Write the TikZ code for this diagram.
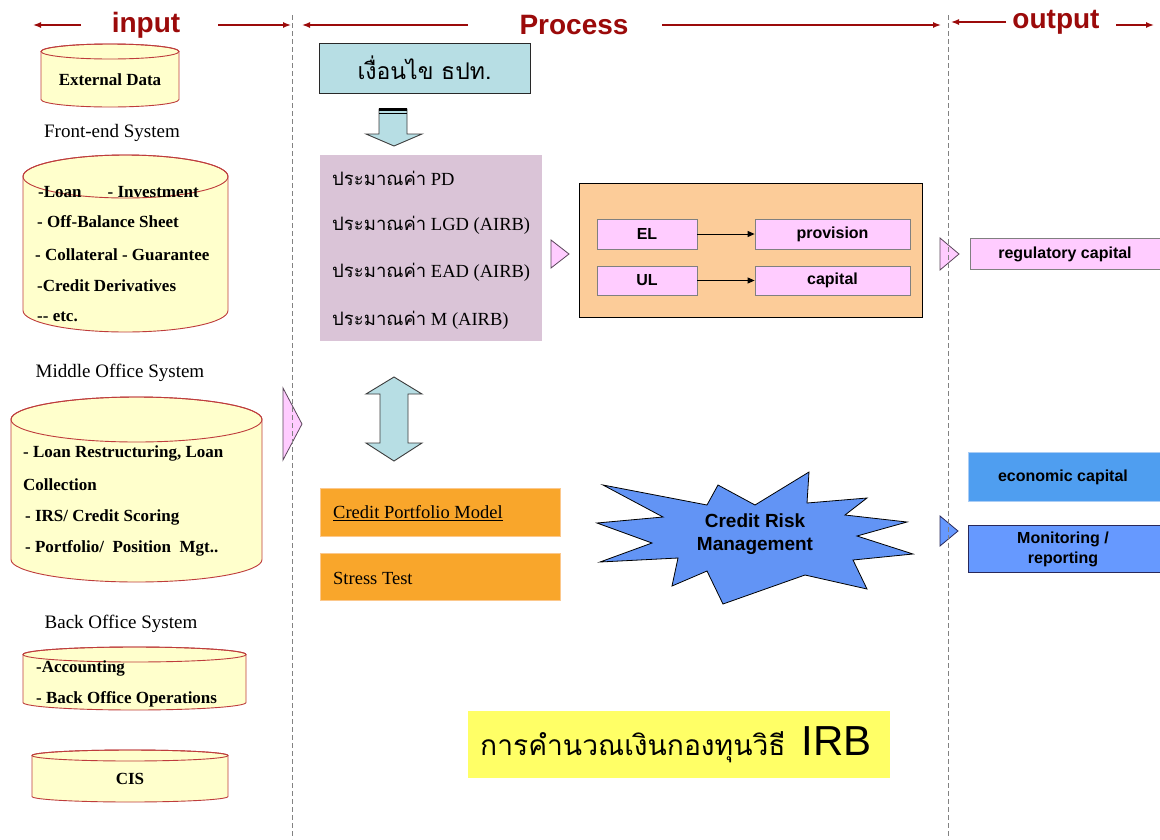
\documentclass[tikz,border=0pt]{standalone}
\usepackage{fontspec}
\setmainfont{Liberation Serif}
\setsansfont{Liberation Sans}
\newfontfamily\thaifont[Script=Thai]{Loma}
\usetikzlibrary{arrows.meta}

\definecolor{titlered}{RGB}{155,10,10}
\definecolor{sepgray}{RGB}{130,130,130}
\definecolor{drumyellow}{RGB}{255,255,204}
\definecolor{drumred}{RGB}{190,60,60}
\definecolor{tealfill}{RGB}{183,222,228}
\definecolor{lilac}{RGB}{218,196,215}
\definecolor{pinkfill}{RGB}{255,204,255}
\definecolor{pinkedge}{RGB}{128,128,128}
\definecolor{peach}{RGB}{252,204,153}
\definecolor{orangefill}{RGB}{249,166,43}
\definecolor{orangeedge}{RGB}{252,200,140}
\definecolor{starblue}{RGB}{98,148,245}
\definecolor{econblue}{RGB}{79,158,240}
\definecolor{monblue}{RGB}{102,153,255}
\definecolor{navyedge}{RGB}{40,40,90}
\definecolor{titleyellow}{RGB}{255,255,102}

\tikzset{
  x=1pt, y=-1pt,
  coltitle/.style={font=\sffamily\bfseries\fontsize{28}{30}\selectfont, text=titlered, inner sep=0},
  tarrow/.style={draw=titlered, line width=1.4pt, -{Latex[length=8pt,width=6pt]}},
  sepline/.style={draw=sepgray, line width=0.8pt, dash pattern=on 5pt off 3pt},
  drumfill/.style={fill=drumyellow, draw=drumred, line width=0.9pt},
  drumedge/.style={draw=drumred, line width=0.9pt},
  drumtext/.style={font=\bfseries\fontsize{17}{19}\selectfont, inner sep=0, anchor=west},
  syslabel/.style={font=\fontsize{19}{21}\selectfont, inner sep=0},
  esttext/.style={font=\fontsize{18.5}{20}\selectfont, inner sep=0, anchor=west},
  smallbox/.style={draw=pinkedge, fill=pinkfill, line width=0.8pt, inner sep=0,
    font=\sffamily\bfseries\fontsize{16}{18}\selectfont},
  pinktri/.style={draw={rgb,255:red,90;green,70;blue,90}, fill=pinkfill, line width=0.8pt},
  bluetri/.style={draw=navyedge, fill=monblue, line width=0.8pt},
  blockarrow/.style={draw={rgb,255:red,60;green,60;blue,60}, fill=tealfill, line width=0.9pt},
  orangebox/.style={draw=orangeedge, fill=orangefill, line width=0.6pt, inner sep=0},
  linkarrow/.style={draw=black, line width=1pt, -{Triangle[length=7pt,width=6pt]}},
}

% drum: x1, y1, x2, y2, radius of the end ellipse
\newcommand{\drum}[5]{%
  \pgfmathsetmacro{\drx}{(#3-#1)/2}%
  \pgfmathsetmacro{\dcx}{(#3+#1)/2}%
  \path[drumfill] (#1,#2+#5) -- (#1,#4-#5)
    arc[start angle=180, end angle=0, x radius=\drx, y radius=#5]
    -- (#3,#2+#5)
    arc[start angle=0, end angle=-180, x radius=\drx, y radius=#5] -- cycle;
  \draw[drumedge] (\dcx,#2+#5) ellipse[x radius=\drx, y radius=#5];
}

\begin{document}
\begin{tikzpicture}
\useasboundingbox[fill=white] (0,0) rectangle (1160,839);

% ---------- column headings ----------
\node[coltitle] (hin)  at (146,25) {input};
\node[coltitle] (hpro) at (574,25) {Process};
\node[coltitle] (hout) at (1056,22) {output};
\coordinate (a1s) at (81,25);   \coordinate (a1e) at (33,25);
\coordinate (a2s) at (218,25);  \coordinate (a2e) at (291,25);
\coordinate (a3s) at (468,25);  \coordinate (a3e) at (302,25);
\coordinate (a4s) at (662,25);  \coordinate (a4e) at (941,25);
\coordinate (a5s) at (1006,22); \coordinate (a5e) at (951,22);
\coordinate (a6s) at (1116,25); \coordinate (a6e) at (1154,25);
\draw[tarrow] (a1s) -- (a1e);
\draw[tarrow] (a2s) -- (a2e);
\draw[tarrow] (a3s) -- (a3e);
\draw[tarrow] (a4s) -- (a4e);
\draw[tarrow] (a5s) -- (a5e);
\draw[tarrow] (a6s) -- (a6e);

% ---------- input column ----------
\drum{41}{44}{179}{107}{7.5}
\node[drumtext, anchor=center] (ext) at (110,80) {External Data};

\node[syslabel] (fesys) at (112,133) {Front-end System};
\drum{23}{155}{228}{332}{21.5}
\node[drumtext] (fe1) at (38,192) {-Loan\hspace{26pt}- Investment};
\node[drumtext] (fe2) at (37,222) {- Off-Balance Sheet};
\node[drumtext] (fe3) at (35,255) {- Collateral - Guarantee};
\node[drumtext] (fe4) at (37,286) {-Credit Derivatives};
\node[drumtext] (fe5) at (37,317) {-{}- etc.};

\node[syslabel] (mosys) at (120,373) {Middle Office System};
\drum{11}{397}{262}{582}{22.5}
\node[drumtext] (mo1) at (23,453) {- Loan Restructuring, Loan};
\node[drumtext] (mo2) at (23,485) {Collection};
\node[drumtext] (mo3) at (25,517) {- IRS/ Credit Scoring};
\node[drumtext] (mo4) at (25,548) {- Portfolio/\ \ Position\ \ Mgt..};

\node[syslabel] (bosys) at (121,624) {Back Office System};
\drum{23}{647}{246}{710}{7.5}
\node[drumtext] (bo1) at (36,668) {-Accounting};
\node[drumtext] (bo2) at (36,699) {- Back Office Operations};

\drum{32}{750}{228}{802}{5.5}
\node[drumtext, anchor=center] (cis) at (130,779) {CIS};

\draw[pinktri] (283,388) -- (302,424) -- (283,460) -- cycle;

% ---------- process column ----------
\node[draw={rgb,255:red,40;green,40;blue,40}, fill=tealfill, line width=0.9pt,
      minimum width=211pt, minimum height=50pt, inner sep=0,
      font=\thaifont\fontsize{23}{25}\selectfont] (cond) at (424.5,68) {เงื่อนไข ธปท.};

% downward block arrow
\draw[blockarrow] (379,109) -- (407,109) -- (407,134) -- (422,134) -- (394,146)
  -- (366,134) -- (379,134) -- cycle;
\draw[line width=2.4pt] (379,109.5) -- (407,109.5);
\draw[line width=0.8pt] (379,113) -- (407,113);

% parameter estimates
\node[fill=lilac, minimum width=222pt, minimum height=186pt, inner sep=0] (est) at (431,248) {};
\node[esttext] (pd)  at (332,178) {{\thaifont ประมาณค่า} PD};
\node[esttext] (lgd) at (332,225) {{\thaifont ประมาณค่า} LGD (AIRB)};
\node[esttext] (ead) at (332,272) {{\thaifont ประมาณค่า} EAD (AIRB)};
\node[esttext] (mat) at (332,320) {{\thaifont ประมาณค่า} M (AIRB)};

\draw[pinktri] (551,240) -- (569,254) -- (551,268) -- cycle;

% loss and capital block
\node[draw=black, fill=peach, line width=0.9pt, minimum width=343pt, minimum height=134pt, inner sep=0] (loss) at (750.5,250) {};
\node[smallbox, minimum width=100pt, minimum height=30pt] (el)   at (647,234) {EL};
\node[smallbox, minimum width=155pt, minimum height=30pt] (prov) at (832.5,234) {provision};
\node[smallbox, minimum width=100pt, minimum height=29pt] (ul)   at (647,280.5) {UL};
\node[smallbox, minimum width=155pt, minimum height=29pt] (capl) at (832.5,280.5) {capital};
\draw[linkarrow] (el) -- (prov);
\draw[linkarrow] (ul) -- (capl);

% two-way block arrow
\draw[blockarrow] (394,377) -- (422,394) -- (408,394) -- (408,443) -- (422,443)
  -- (394,461) -- (366,443) -- (380,443) -- (380,394) -- (366,394) -- cycle;

% models
\node[orangebox, minimum width=240pt, minimum height=48pt] (cpm) at (440,512) {};
\node[esttext] (cpmt) at (333,513) {\underline{Credit Portfolio Model}};
\node[orangebox, minimum width=240pt, minimum height=47pt] (st) at (440,576.5) {};
\node[esttext] (stt) at (333,578) {Stress Test};

% credit risk management burst
\draw[draw=black, fill=starblue, line width=0.8pt]
  (603,485) -- (707,505) -- (718,485) -- (755,505) -- (809,472) -- (807,503)
  -- (867,498) -- (845,515) -- (907,522) -- (857,536) -- (913,554) -- (853,560)
  -- (867,589) -- (805,575) -- (723,604) -- (707,571) -- (672,586) -- (678,558)
  -- (600,562) -- (652,543) -- (597,523) -- (663,517) -- cycle;
\node[align=center, inner sep=0, font=\sffamily\bfseries\fontsize{19}{23.5}\selectfont]
  (crm) at (755,534) {Credit Risk\\Management};

% title banner
\node[fill=titleyellow, minimum width=422pt, minimum height=67pt, inner sep=0] (irb) at (679,744.5) {};
\node[inner sep=0, anchor=west] (irbt) at (480,745)
  {{\thaifont\fontsize{28.2}{30}\selectfont การคำนวณเงินกองทุนวิธี}\hspace{16pt}{\sffamily\fontsize{42}{44}\selectfont IRB}};

% ---------- output column ----------
\draw[pinktri] (940,238) -- (959,254) -- (940,270) -- cycle;
\node[smallbox, minimum width=192pt, minimum height=31pt] (reg) at (1066,253.5) {};
\node[inner sep=0, font=\sffamily\bfseries\fontsize{16}{18}\selectfont] (regt) at (1065,254.5) {regulatory capital};

\node[draw={rgb,255:red,170;green,205;blue,245}, fill=econblue, line width=0.6pt,
      minimum width=194pt, minimum height=49pt, inner sep=0] (econ) at (1065,476.5) {};
\node[inner sep=0, font=\sffamily\bfseries\fontsize{16}{18}\selectfont] (econt) at (1063,477.5) {economic capital};

\draw[bluetri] (940,516) -- (958,531) -- (940,546) -- cycle;
\node[draw=navyedge, fill=monblue, line width=0.8pt,
      minimum width=194pt, minimum height=47pt, inner sep=0] (mon) at (1065,548.5) {};
\node[inner sep=0, align=center, font=\sffamily\bfseries\fontsize{16}{20}\selectfont] (mont) at (1063,549) {Monitoring /\\reporting};

% ---------- column separators ----------
\coordinate (s1t) at (292,15); \coordinate (s1b) at (292,839);
\coordinate (s2t) at (948,15); \coordinate (s2b) at (948,839);
\draw[sepline] (s1t) -- (s1b);
\draw[sepline] (s2t) -- (s2b);
\end{tikzpicture}
\end{document}
